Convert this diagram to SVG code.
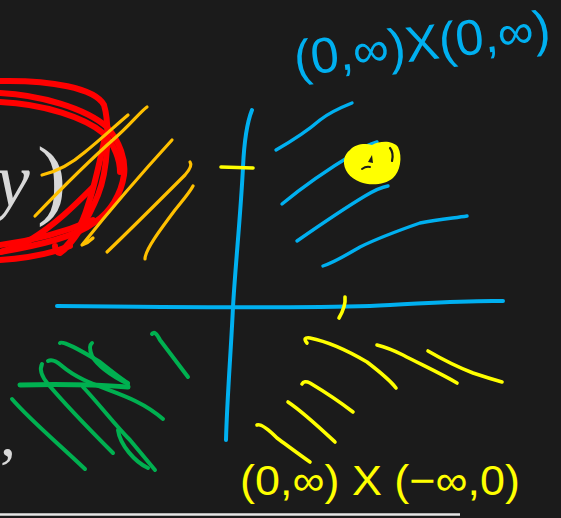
<svg xmlns="http://www.w3.org/2000/svg" width="561" height="518" viewBox="0 0 561 518">
<style>
.s{fill:none;stroke-linecap:round;stroke-linejoin:round}
.red{stroke:#ff0000;stroke-width:6}
.org{stroke:#ffc000;stroke-width:3.2}
.cy{stroke:#00b0f0;stroke-width:4}
.yl{stroke:#ffff00;stroke-width:3.6}
.gr{stroke:#00b050;stroke-width:4}
.tex{font-family:"Liberation Serif",serif;fill:#d8d8d8}
.hand{font-family:"Liberation Sans",sans-serif}
</style>
<rect width="561" height="518" fill="#1b1b1b"/>
<g id="printed-text">
<text class="tex" x="-4" y="206" font-size="76" font-style="italic">y</text>
<text class="tex" x="37" y="208" font-size="88">)</text>
<text class="tex" x="0" y="456" font-size="64">,</text>
<line x1="0" y1="514.5" x2="460" y2="514.5" stroke="#e6e6e6" stroke-width="2.5"/>
</g>
<g id="red-circle" class="s red">
<path d="M0,81 C50,80 95,88 104,105 C110,125 108,170 98,195 C88,220 72,245 60,253 Q55,252 55,246"/>
<path d="M0,93 C40,95 85,108 107,127 C120,142 126,160 124,175 C121,195 110,212 95,222 C75,237 40,245 0,252"/>
<path d="M0,102 C45,104 85,118 103,133 C115,145 120,160 120,172"/>
<path d="M105,137 C100,160 95,185 88,205 C82,225 72,242 60,252"/>
<path d="M92,188 C75,205 55,225 30,240 C18,246 8,250 0,252"/>
<path d="M0,245 C30,241 65,232 93,220"/>
<path d="M0,260 C30,258 55,252 70,246"/>
</g>
<g id="orange-hatch" class="s org">
<path d="M42,175 C55,172 70,165 85,152 C100,140 115,126 128,115"/>
<path d="M35,216 C60,190 90,160 115,138 C130,125 140,112 147,107"/>
<path d="M93,238 Q88,243 82,245 C110,210 140,175 172,140"/>
<path d="M107,252 C130,230 160,200 185,175 Q193,166 190,162"/>
<path d="M145,259 C145,250 160,230 175,210 C183,200 190,192 193,186"/>
</g>
<g id="axes" class="s cy">
<path d="M252,110 C246,125 244,145 243,167 C241,210 235,270 233,307 C231,350 227,400 226,440"/>
<path d="M57,306 C150,307 300,308 370,306 C420,304 460,300 503,301"/>
</g>
<g id="ticks" class="s yl">
<path d="M221,167 L253,168"/>
<path d="M345,297 Q346,306 339,318"/>
</g>
<g id="cyan-hatch" class="s cy" style="stroke-width:3.4">
<path d="M276,150 C290,142 305,133 320,120 C330,112 342,107 352,103"/>
<path d="M282,204 C305,185 330,168 355,153 C362,148 370,144 377,142"/>
<path d="M297,241 C320,225 345,208 365,196 C375,190 382,187 388,186"/>
<path d="M323,266 C335,262 348,254 360,247 C380,237 400,230 420,223 C440,219 455,218 467,216"/>
</g>
<g id="point">
<path d="M350,150 C355,144 365,143 372,145 C380,141 392,140 398,147 C403,157 400,172 393,178 C385,185 370,186 360,182 C350,178 343,170 344,160 C345,155 347,152 350,150 Z" fill="#ffff00"/>
<path d="M368,162 L372,155 L373,163 Z" fill="#1b1b1b"/>
<path d="M362,169 Q366,166 370,167" class="s" stroke="#1b1b1b" stroke-width="2"/>
<path d="M390,148 Q394,153 392,161" class="s" stroke="#1b1b1b" stroke-width="2.2"/>
</g>
<g id="yellow-hatch" class="s yl">
<path d="M307,343 Q302,337 310,338 C330,342 350,352 367,362 C380,372 390,380 396,388"/>
<path d="M377,345 C385,347 395,351 403,355 C420,364 440,373 457,383"/>
<path d="M428,351 C440,358 455,366 473,373 C485,377 495,380 502,382"/>
<path d="M302,384 Q304,380 310,383 C325,392 340,402 353,412"/>
<path d="M288,402 C303,412 320,428 335,442"/>
<path d="M257,425 Q262,423 277,438 C288,446 300,455 310,462"/>
</g>
<g id="green-hatch" class="s gr">
<path d="M20,385 C60,384 100,385 128,387" style="stroke-width:5"/>
<path d="M60,343 C62,340 80,350 100,362 C110,370 120,378 128,383"/>
<path d="M92,343 Q88,346 92,356 Q100,370 128,384"/>
<path d="M42,364 Q38,372 48,384 C70,410 95,435 113,453"/>
<path d="M48,361 Q53,358 62,366 C90,390 130,390 163,419"/>
<path d="M83,387 C100,405 115,425 130,440 L155,470"/>
<path d="M118,430 C120,445 135,462 148,468"/>
<path d="M12,399 C30,420 60,445 85,469"/>
<path d="M152,334 Q155,330 160,340 L188,377"/>
</g>
<g id="labels" class="hand">
<text x="296" y="76" font-size="50" fill="#00b0f0" textLength="258" lengthAdjust="spacingAndGlyphs" transform="rotate(-7 296 76)">(0,∞)X(0,∞)</text>
<text x="240" y="495" font-size="42" fill="#ffff00" textLength="280" lengthAdjust="spacingAndGlyphs">(0,∞) X (−∞,0)</text>
</g>
</svg>
